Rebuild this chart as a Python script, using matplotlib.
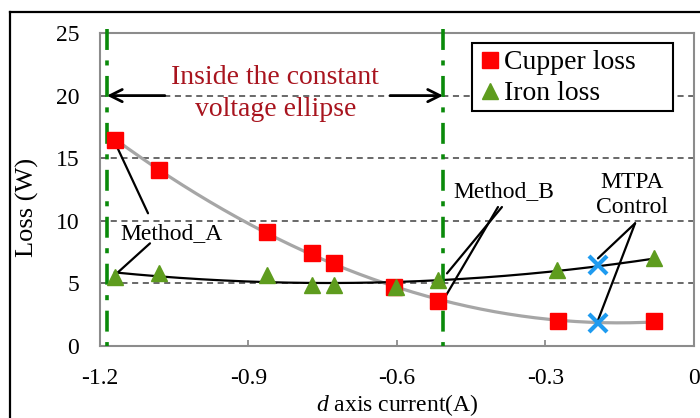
import numpy as np
import matplotlib
matplotlib.use("Agg")
import matplotlib.pyplot as plt
from matplotlib.patches import Rectangle
from matplotlib.lines import Line2D

plt.rcParams['font.family'] = ['Liberation Serif', 'DejaVu Serif']
plt.rcParams['mathtext.fontset'] = 'custom'
plt.rcParams['mathtext.rm'] = 'Liberation Serif'
plt.rcParams['mathtext.it'] = 'Liberation Serif:italic'

# d axis current (A) and measured losses (W)
id_current = [-1.17, -1.08, -0.863, -0.772, -0.727, -0.606, -0.517, -0.275, -0.08]
copper_loss = [16.45, 14.06, 9.1, 7.4, 6.6, 4.7, 3.6, 2.0, 2.0]
iron_current = [-1.17, -1.08, -0.863, -0.772, -0.727, -0.602, -0.517, -0.277, -0.08]
iron_loss = [5.55, 5.8, 5.7, 4.9, 4.9, 4.7, 5.3, 6.1, 7.0]

# MTPA operating point
mtpa_current = [-0.194, -0.194]
mtpa_loss = [6.5, 1.85]

# boundaries of the constant voltage ellipse
ellipse_bounds = [-1.186, -0.507]

x_ticks = [-1.2, -0.9, -0.6, -0.3, 0]
x_ticklabels = ["-1.2", "-0.9", "-0.6", "-0.3", "0"]
y_ticks = [0, 5, 10, 15, 20, 25]

RED = "#FF0000"
GREEN = "#5E9C1E"
BLUE = "#1E9BF0"
DARKRED = "#A8141E"
SPINE = "#8C8C8C"

fig = plt.figure(figsize=(7, 4.18), dpi=100)
ax = fig.add_axes([100 / 700, 1 - 346 / 418, 594 / 700, 313 / 418])

# outer frame of the figure
fig.add_artist(Line2D([10 / 700, 10 / 700], [1 - 12 / 418, -0.1], color="black", lw=1.6,
                      transform=fig.transFigure))
fig.add_artist(Line2D([10 / 700, 1.1], [1 - 12 / 418, 1 - 12 / 418], color="black", lw=1.6,
                      transform=fig.transFigure))

# horizontal grid
for yv in y_ticks[1:-1]:
    ax.axhline(yv, color="#404040", lw=1.1, ls=(0, (4, 3)), zorder=1)

# trend lines
xc = np.linspace(id_current[0], id_current[-1], 200)
cu_fit = np.polyfit(id_current, copper_loss, 2)
fe_fit = np.polyfit(iron_current, iron_loss, 2)
ax.plot(xc, np.polyval(cu_fit, xc), color="#A6A6A6", lw=2.3, zorder=3)
ax.plot(xc, np.polyval(fe_fit, xc), color="black", lw=1.6, zorder=3)

# constant voltage ellipse boundaries
for xb in ellipse_bounds:
    ax.plot([xb, xb], [25.3, 0], color="#0A8A0A", lw=2.6, ls=(0, (5.8, 2.9, 1.4, 2.9)),
            zorder=4, clip_on=False)

ax.plot(id_current, copper_loss, ls="none", marker="s", ms=11, color=RED, mec=RED,
        zorder=5, label="Cupper loss")
ax.plot(iron_current, iron_loss, ls="none", marker="^", ms=11, color=GREEN, mec=GREEN,
        zorder=5, label="Iron loss")
ax.plot(mtpa_current, mtpa_loss, ls="none", marker="x", ms=13, mew=3, color=BLUE, zorder=6)

ax.set_xlim(-1.2, 0)
ax.set_ylim(0, 25)
ax.set_xticks(x_ticks)
ax.set_xticklabels(x_ticklabels)
ax.set_yticks(y_ticks)
ax.tick_params(axis="x", direction="in", length=4.5, width=1.3, color=SPINE, pad=15.5,
               labelsize=17)
ax.tick_params(axis="y", length=0, pad=15, labelsize=17)
for sp in ax.spines.values():
    sp.set_color(SPINE)
    sp.set_linewidth(1.5)

ax.set_ylabel("Loss (W)", fontsize=19)
ax.yaxis.set_label_coords(-0.103, 0.444)
ax.set_xlabel("$d$ axis current(A)", fontsize=17, va="top")
ax.xaxis.set_label_coords(0.5, -0.148)

# constant voltage region label and arrows
ax.text(-0.846, 20.17, "Inside the constant\nvoltage ellipse", color=DARKRED, fontsize=20,
        ha="center", va="center", linespacing=1.33, zorder=7)
arrow = dict(arrowstyle="->", color="black", lw=2.0, mutation_scale=22, shrinkA=0, shrinkB=0)
ax.annotate("", xy=(ellipse_bounds[0], 20), xytext=(-1.069, 20), arrowprops=arrow, zorder=7)
ax.annotate("", xy=(ellipse_bounds[1], 20), xytext=(-0.614, 20), arrowprops=arrow, zorder=7)

lead = dict(arrowstyle="-", color="black", lw=1.6, shrinkA=0, shrinkB=0)

# Method_A
ax.text(-1.055, 9.0, "Method_A", fontsize=17, ha="center", va="center", zorder=7)
ax.annotate("", xy=(id_current[0] + 0.005, copper_loss[0] - 0.6), xytext=(-1.103, 10.6),
            arrowprops=lead)
ax.annotate("", xy=(iron_current[0] + 0.006, np.polyval(fe_fit, iron_current[0])),
            xytext=(-1.099, 8.2), arrowprops=lead)

# Method_B
ax.text(-0.384, 12.3, "Method_B", fontsize=17, ha="center", va="center", zorder=7)
ax.annotate("", xy=(iron_current[6] + 0.018, iron_loss[6] + 0.5), xytext=(-0.388, 11.1),
            arrowprops=lead)
ax.annotate("", xy=(id_current[6] + 0.014, copper_loss[6] + 0.3), xytext=(-0.396, 11.1),
            arrowprops=lead)

# MTPA
ax.text(-0.125, 12.06, "MTPA\nControl", fontsize=17, ha="center", va="center",
        linespacing=1.24, zorder=7)
ax.annotate("", xy=(mtpa_current[0], mtpa_loss[0] + 0.5), xytext=(-0.119, 9.8),
            arrowprops=lead)
ax.annotate("", xy=(mtpa_current[1], mtpa_loss[1] + 0.2), xytext=(-0.119, 9.8),
            arrowprops=lead)

# legend with a plain black box
ax.add_patch(Rectangle(((472 - 100) / 594, (346 - 111) / 313), 201 / 594, 68 / 313,
                       transform=ax.transAxes, fc="white", ec="black", lw=1.5, zorder=8))
leg = ax.legend(loc="upper left", bbox_to_anchor=((480 - 100) / 594, (346 - 50) / 313),
                frameon=False, fontsize=20, handlelength=0.7, handletextpad=0.15,
                labelspacing=0.2, borderpad=0, borderaxespad=0)
leg.set_zorder(9)

fig.savefig("out.png", dpi=100)
